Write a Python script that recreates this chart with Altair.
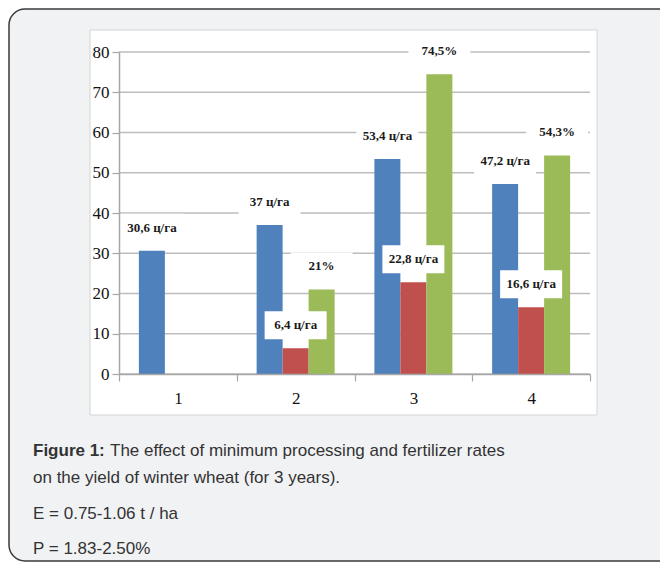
import altair as alt
import pandas as pd

categories = ["1", "2", "3", "4"]
series_names = ["s1", "s2", "s3"]
series_colors = ["#4f81bd", "#c0504d", "#9bbb59"]
blue_values = [30.6, 37.0, 53.4, 47.2]
red_values = [None, 6.4, 22.8, 16.6]
green_values = [None, 21.0, 74.5, 54.3]
blue_labels = ["30,6 ц/га", "37 ц/га", "53,4 ц/га", "47,2 ц/га"]
red_labels = [None, "6,4 ц/га", "22,8 ц/га", "16,6 ц/га"]
green_labels = [None, "21%", "74,5%", "54,3%"]
y_ticks = [0, 10, 20, 30, 40, 50, 60, 70, 80]
caption_bold = "Figure 1:"
caption_line1 = "The effect of minimum processing and fertilizer rates"
caption_line2 = "on the yield of winter wheat (for 3 years)."
caption_line3 = "E = 0.75-1.06 t / ha"
caption_line4 = "P = 1.83-2.50%"

rows = []
for vals, labs, s in [(blue_values, blue_labels, "s1"),
                      (red_values, red_labels, "s2"),
                      (green_values, green_labels, "s3")]:
    for c, v, l in zip(categories, vals, labs):
        if v is not None:
            rows.append({"cat": c, "series": s, "value": v, "label": l})
df = pd.DataFrame(rows)
ticks_df = pd.DataFrame({"tick": y_ticks})
one = pd.DataFrame({"k": [0]})

W, H = 471, 322

x_enc = alt.X("cat:N", scale=alt.Scale(domain=categories, paddingInner=0, paddingOuter=0),
              axis=alt.Axis(title=None, labelAngle=0, tickBand="extent", labelFont="Liberation Serif",
                            labelFontSize=17, labelColor="#111111", labelPadding=9, tickSize=7,
                            domainColor="#a6a6a6", tickColor="#a6a6a6", domainWidth=1.5, tickWidth=1.2,
                            zindex=1))
xo_enc = alt.XOffset("series:N", scale=alt.Scale(domain=series_names, paddingInner=0, paddingOuter=0.765))
y_enc = alt.Y("value:Q", scale=alt.Scale(domain=[0, 80], nice=False),
              axis=alt.Axis(title=None, values=y_ticks, grid=False, labelFont="Liberation Serif",
                            labelFontSize=17, labelColor="#111111", labelPadding=3, tickSize=7,
                            domainColor="#a6a6a6", tickColor="#a6a6a6", domainWidth=1.5, tickWidth=1.2,
                            zindex=1))

frame = alt.Chart(one).mark_rect(fill="#f1f2f4", stroke="#3a3a3a", strokeWidth=1.5, cornerRadius=16).encode(
    x=alt.value(-110), x2=alt.value(580), y=alt.value(-43), y2=alt.value(509))
panel = alt.Chart(one).mark_rect(fill="white", stroke="#d4d4d4", strokeWidth=1).encode(
    x=alt.value(-29), x2=alt.value(478), y=alt.value(-22), y2=alt.value(363))
grid = alt.Chart(ticks_df).mark_rule(color="#bdbdbd", strokeWidth=1.5).encode(
    y=alt.Y("tick:Q", scale=alt.Scale(domain=[0, 80], nice=False)), x=alt.value(0), x2=alt.value(W))
bars = alt.Chart(df).mark_bar(size=26).encode(
    x=x_enc, xOffset=xo_enc, y=y_enc,
    color=alt.Color("series:N", scale=alt.Scale(domain=series_names, range=series_colors), legend=None))
boxes = alt.Chart(df).mark_point(shape="M-1,-0.4516H1V0.4516H-1Z", size=3844, filled=True,
                                 color="white", opacity=1, strokeWidth=0, yOffset=-23).encode(
    x="cat:N", xOffset="series:N", y="value:Q")
texts = alt.Chart(df).mark_text(font="Liberation Serif", fontWeight="bold", fontSize=13,
                                color="#1a1a1a", baseline="middle", yOffset=-23).encode(
    x="cat:N", xOffset="series:N", y="value:Q", text="label:N")

cap_style = dict(font="Liberation Sans", fontSize=17, color="#333333", align="left", baseline="alphabetic")
cap0 = alt.Chart(one).mark_text(text=caption_bold, fontWeight="bold", **cap_style).encode(
    x=alt.value(-86), y=alt.value(404))
cap1 = alt.Chart(one).mark_text(text=caption_line1, **cap_style).encode(x=alt.value(-9), y=alt.value(404))
cap2 = alt.Chart(one).mark_text(text=caption_line2, **cap_style).encode(x=alt.value(-86), y=alt.value(431))
cap3 = alt.Chart(one).mark_text(text=caption_line3, **cap_style).encode(x=alt.value(-86), y=alt.value(467))
cap4 = alt.Chart(one).mark_text(text=caption_line4, **cap_style).encode(x=alt.value(-86), y=alt.value(502))

chart = alt.layer(frame, panel, grid, bars, boxes, texts, cap0, cap1, cap2, cap3, cap4).properties(
    width=W, height=H,
    autosize=alt.AutoSizeParams(type="none"),
    padding={"left": 111, "top": 44, "right": 70, "bottom": 188},
    background="white",
).configure_view(stroke=None)

chart.save("out.html", embed_options={"renderer": "svg", "actions": False})
